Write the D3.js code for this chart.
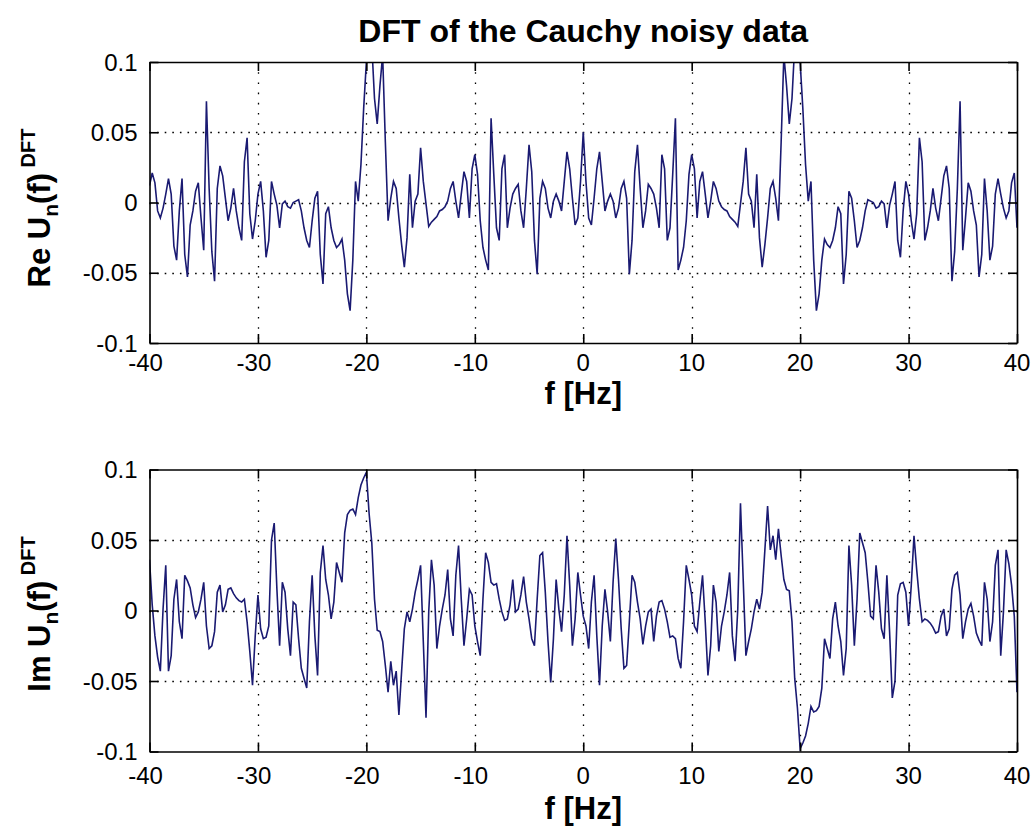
<!DOCTYPE html>
<html>
<head>
<meta charset="utf-8">
<script src="https://cdn.jsdelivr.net/npm/d3@7"></script>
<style>
  body { margin: 0; background: #ffffff; }
  svg { display: block; font-family: "Liberation Sans", Arial, Helvetica, sans-serif; }
</style>
</head>
<body>
<svg id="fig" width="1034" height="830"></svg>
<script>
// ---- labels and ticks ----
const chartTitle = "DFT of the Cauchy noisy data";
const xLabel = "f [Hz]";
const xTicks = [-40, -30, -20, -10, 0, 10, 20, 30, 40];
const xTickLabels = ["-40", "-30", "-20", "-10", "0", "10", "20", "30", "40"];
const yTicks = [-0.1, -0.05, 0, 0.05, 0.1];
const yTickLabels = ["-0.1", "-0.05", "0", "0.05", "0.1"];

// ---- spectrum samples: 0.25 Hz bins from -40 Hz to +40 Hz ----
const freqStart = -40;
const freqStep = 0.25;

// Real part, bins -40 ... 0 Hz (161 values)
const reNeg = [
  0.012, 0.021, 0.014, -0.006, -0.011, -0.004, 0.006, 0.017, 0.006, -0.031,
  -0.041, -0.006, 0.017, -0.037, -0.053, -0.016, -0.006, 0.008, 0.014, -0.011,
  -0.034, 0.072, 0.010, -0.035, -0.056, 0.010, 0.026, 0.019, 0.003, -0.013,
  -0.004, 0.010, -0.006, -0.018, -0.027, 0.029, 0.046, -0.008, -0.026, -0.013,
  0.006, 0.015, -0.006, -0.039, -0.027, 0.015, 0.006, -0.002, -0.018, -0.001,
  0.001, -0.003, -0.004, 0.000, 0.001, 0.002, -0.006, -0.018, -0.027, -0.032,
  -0.013, 0.003, 0.008, -0.037, -0.058, -0.008, -0.003, -0.018, -0.027, -0.032,
  -0.030, -0.026, -0.041, -0.065, -0.077, -0.041, 0.015, 0.001, 0.027, 0.067,
  0.100, 0.118, 0.112, 0.074, 0.056, 0.083, 0.105, 0.043, -0.013, 0.003,
  0.015, 0.010, -0.011, -0.030, -0.046, -0.025, 0.020, -0.018, 0.001, 0.006,
  0.039, 0.015, -0.001, -0.017, -0.014, -0.012, -0.010, -0.006, -0.005, -0.003,
  0.001, 0.010, 0.015, 0.001, -0.011, 0.006, 0.022, 0.015, -0.011, 0.024,
  0.034, 0.020, -0.013, -0.032, -0.041, -0.048, 0.060, 0.020, -0.018, -0.027,
  0.024, 0.034, -0.018, -0.004, 0.006, 0.010, 0.013, -0.006, -0.018, 0.010,
  0.041, 0.022, -0.027, -0.051, 0.003, 0.015, 0.010, -0.004, -0.011, 0.001,
  0.006, 0.001, -0.006, 0.015, 0.036, 0.024, 0.003, -0.016, -0.011, 0.015,
  0.050
];

// Real part, bins 0.25 ... 40 Hz (160 values)
const rePos = [
  0.015, -0.011, -0.016, 0.003, 0.024, 0.036, 0.015, -0.006, 0.001, 0.006,
  0.001, -0.011, -0.004, 0.010, 0.015, 0.003, -0.051, -0.027, 0.022, 0.041,
  0.010, -0.018, -0.006, 0.013, 0.010, 0.006, -0.004, -0.018, 0.034, 0.024,
  -0.027, -0.018, 0.020, 0.060, -0.048, -0.041, -0.032, -0.013, 0.020, 0.034,
  0.024, -0.011, 0.015, 0.022, 0.006, -0.011, 0.001, 0.015, 0.010, 0.001,
  -0.003, -0.005, -0.006, -0.010, -0.012, -0.014, -0.017, -0.001, 0.015, 0.039,
  0.006, 0.001, -0.018, 0.020, -0.025, -0.046, -0.030, -0.011, 0.010, 0.015,
  0.003, -0.013, 0.043, 0.105, 0.083, 0.056, 0.074, 0.112, 0.118, 0.100,
  0.067, 0.027, 0.001, 0.015, -0.041, -0.077, -0.065, -0.041, -0.026, -0.030,
  -0.032, -0.027, -0.018, -0.003, -0.008, -0.058, -0.037, 0.008, 0.003, -0.013,
  -0.032, -0.027, -0.018, -0.006, 0.002, 0.001, 0.000, -0.004, -0.003, 0.001,
  -0.001, -0.018, -0.002, 0.006, 0.015, -0.027, -0.039, -0.006, 0.015, 0.006,
  -0.013, -0.026, -0.008, 0.046, 0.029, -0.027, -0.018, -0.006, 0.010, -0.004,
  -0.013, 0.003, 0.019, 0.026, 0.010, -0.056, -0.035, 0.010, 0.072, -0.034,
  -0.011, 0.014, 0.008, -0.006, -0.016, -0.053, -0.037, 0.017, -0.006, -0.041,
  -0.031, 0.006, 0.017, 0.006, -0.004, -0.011, -0.006, 0.014, 0.021, -0.018
];

// Imaginary part, bins -40 ... 0 Hz (161 values)
const imNeg = [
  0.036, 0.004, -0.018, -0.033, -0.043, 0.001, 0.032, -0.043, -0.032, 0.008,
  0.022, -0.008, -0.020, 0.025, 0.021, 0.016, 0.004, -0.005, -0.001, 0.008,
  0.020, -0.011, -0.027, -0.025, -0.015, 0.013, 0.018, -0.001, 0.004, 0.015,
  0.016, 0.012, 0.009, 0.007, 0.006, 0.008, -0.008, -0.029, -0.053, -0.018,
  0.011, -0.013, -0.020, -0.019, -0.011, 0.050, 0.062, 0.015, -0.025, 0.020,
  0.013, -0.013, -0.032, 0.006, 0.004, -0.020, -0.041, -0.048, -0.055, -0.008,
  0.025, -0.018, -0.046, 0.027, 0.046, 0.022, 0.011, -0.006, 0.006, 0.034,
  0.027, 0.020, 0.055, 0.068, 0.071, 0.072, 0.068, 0.080, 0.089, 0.094,
  0.098, 0.069, 0.048, 0.008, -0.014, -0.015, -0.022, -0.039, -0.058, -0.036,
  -0.053, -0.043, -0.074, -0.043, -0.013, -0.001, -0.008, 0.001, 0.013, 0.022,
  0.032, -0.022, -0.076, -0.001, 0.036, 0.018, -0.027, -0.011, 0.001, 0.011,
  0.029, -0.006, -0.018, 0.025, 0.046, 0.008, -0.025, -0.006, 0.015, 0.011,
  -0.011, -0.022, -0.032, 0.008, 0.041, 0.034, 0.020, 0.018, 0.019, 0.008,
  -0.001, -0.007, -0.006, 0.004, 0.022, -0.001, 0.001, 0.011, 0.024, 0.006,
  -0.006, -0.020, -0.025, 0.008, 0.039, 0.041, 0.013, -0.022, -0.051, -0.020,
  0.022, 0.001, -0.015, 0.011, 0.053, 0.018, -0.025, -0.006, 0.027, 0.011,
  -0.004
];

// Imaginary part, bins 0.25 ... 40 Hz (160 values)
const imPos = [
  -0.011, -0.027, 0.006, 0.025, -0.018, -0.053, -0.011, 0.015, -0.001, -0.022,
  0.020, 0.051, 0.022, -0.013, -0.041, -0.039, -0.008, 0.025, 0.020, 0.006,
  -0.006, -0.024, -0.011, -0.001, 0.001, -0.022, -0.004, 0.006, 0.007, 0.001,
  -0.008, -0.019, -0.018, -0.020, -0.034, -0.041, -0.008, 0.032, 0.022, 0.011,
  -0.011, -0.015, 0.006, 0.025, -0.008, -0.046, -0.025, 0.018, 0.006, -0.029,
  -0.011, -0.001, 0.011, 0.027, -0.018, -0.036, 0.001, 0.076, 0.022, -0.032,
  -0.022, -0.013, -0.001, 0.008, 0.001, 0.013, 0.043, 0.074, 0.043, 0.053,
  0.036, 0.058, 0.039, 0.022, 0.015, 0.014, -0.008, -0.048, -0.069, -0.098,
  -0.094, -0.089, -0.080, -0.068, -0.072, -0.071, -0.068, -0.055, -0.020, -0.027,
  -0.034, -0.006, 0.006, -0.011, -0.022, -0.046, -0.027, 0.046, 0.018, -0.025,
  0.008, 0.055, 0.048, 0.041, 0.020, -0.004, -0.006, 0.032, 0.013, -0.013,
  -0.020, 0.025, -0.015, -0.062, -0.050, 0.011, 0.019, 0.020, 0.013, -0.011,
  0.018, 0.053, 0.029, 0.008, -0.008, -0.006, -0.007, -0.009, -0.012, -0.016,
  -0.015, -0.004, 0.001, -0.018, -0.013, 0.015, 0.025, 0.027, 0.011, -0.020,
  -0.008, 0.001, 0.005, -0.004, -0.016, -0.021, -0.025, 0.020, 0.008, -0.022,
  -0.008, 0.032, 0.043, -0.032, -0.001, 0.043, 0.033, 0.018, -0.004, -0.058
];

// ---- figure layout ----
const svg = d3.select("#fig");
const lineColor = "#1a1a72";
const fontMain = 31;
const fontTick = 24;

const x = d3.scaleLinear().domain([-40, 40]).range([149.5, 1017]);

const panels = [
  { id: "re", top: 62, bottom: 343, prefix: "Re", neg: reNeg, pos: rePos,
    labelY: 208, xLabelY: 404, tickLabelY: 371 },
  { id: "im", top: 469.5, bottom: 751.5, prefix: "Im", neg: imNeg, pos: imPos,
    labelY: 614, xLabelY: 819, tickLabelY: 784 }
];

svg.append("text")
  .attr("x", (x.range()[0] + x.range()[1]) / 2)
  .attr("y", 42)
  .attr("text-anchor", "middle")
  .attr("font-size", 32)
  .attr("font-weight", "bold")
  .attr("fill", "#000")
  .text(chartTitle);

panels.forEach(p => {
  const values = p.neg.concat(p.pos);
  const series = values.map((v, i) => ({ f: freqStart + i * freqStep, v }));

  const y = d3.scaleLinear().domain([-0.1, 0.1]).range([p.bottom, p.top]);
  const g = svg.append("g");

  // clip region of the axes
  g.append("clipPath").attr("id", "clip-" + p.id)
    .append("rect")
    .attr("x", x.range()[0]).attr("y", p.top)
    .attr("width", x.range()[1] - x.range()[0])
    .attr("height", p.bottom - p.top);

  // dotted grid
  const grid = g.append("g").attr("stroke", "#000").attr("stroke-width", 1.3).attr("fill", "none");
  xTicks.slice(1, -1).forEach(t => {
    grid.append("line")
      .attr("x1", Math.round(x(t)) + 0.5).attr("x2", Math.round(x(t)) + 0.5)
      .attr("y1", p.top).attr("y2", p.bottom)
      .attr("stroke-dasharray", "1.6,8.6");
  });
  yTicks.slice(1, -1).forEach(t => {
    grid.append("line")
      .attr("x1", x.range()[0]).attr("x2", x.range()[1])
      .attr("y1", Math.round(y(t)) + 0.5).attr("y2", Math.round(y(t)) + 0.5)
      .attr("stroke-dasharray", "1.6,6");
  });

  // spectrum trace
  g.append("path")
    .datum(series)
    .attr("clip-path", "url(#clip-" + p.id + ")")
    .attr("fill", "none")
    .attr("stroke", lineColor)
    .attr("stroke-width", 1.6)
    .attr("stroke-linejoin", "miter")
    .attr("d", d3.line().x(d => x(d.f)).y(d => y(d.v)));

  // axes box with inward ticks on all sides
  const tickLen = 9;
  const axisBottom = d3.axisBottom(x).tickValues(xTicks).tickSizeInner(-tickLen).tickSizeOuter(0).tickFormat("");
  const axisTop = d3.axisTop(x).tickValues(xTicks).tickSizeInner(-tickLen).tickSizeOuter(0).tickFormat("");
  const axisLeft = d3.axisLeft(y).tickValues(yTicks).tickSizeInner(-tickLen).tickSizeOuter(0).tickFormat("");
  const axisRight = d3.axisRight(y).tickValues(yTicks).tickSizeInner(-tickLen).tickSizeOuter(0).tickFormat("");

  [[axisBottom, `translate(0,${p.bottom})`], [axisTop, `translate(0,${p.top})`],
   [axisLeft, `translate(${x.range()[0]},0)`], [axisRight, `translate(${x.range()[1]},0)`]]
    .forEach(([ax, tr]) => {
      const a = g.append("g").attr("transform", tr).call(ax);
      a.selectAll("path.domain").attr("stroke", "#000").attr("stroke-width", 1.6);
      a.selectAll(".tick line").attr("stroke", "#000").attr("stroke-width", 1.6);
    });

  // tick labels
  const tl = g.append("g").attr("font-size", fontTick).attr("fill", "#000");
  xTicks.forEach((t, i) => {
    const lab = xTickLabels[i];
    tl.append("text")
      .attr("x", x(t) + (lab.startsWith("-") ? -4 : 0))
      .attr("y", p.tickLabelY)
      .attr("text-anchor", "middle")
      .text(lab);
  });
  yTicks.forEach((t, i) => {
    tl.append("text")
      .attr("x", x.range()[0] - 12)
      .attr("y", y(t) + 8.5)
      .attr("text-anchor", "end")
      .text(yTickLabels[i]);
  });

  // x label
  g.append("text")
    .attr("x", (x.range()[0] + x.range()[1]) / 2)
    .attr("y", p.xLabelY)
    .attr("text-anchor", "middle")
    .attr("font-size", fontMain)
    .attr("font-weight", "bold")
    .text(xLabel);

  // y label: "<prefix> U_n(f)^DFT"
  const yl = g.append("text")
    .attr("transform", `translate(50,${p.labelY}) rotate(-90)`)
    .attr("text-anchor", "middle")
    .attr("font-size", fontMain)
    .attr("font-weight", "bold");
  yl.append("tspan").text(p.prefix + " U");
  yl.append("tspan").attr("font-size", 21).attr("dy", 8).text("n");
  yl.append("tspan").attr("dy", -8).text("(f)");
  yl.append("tspan").attr("font-size", 20).attr("dy", -15).text(" DFT");
});
</script>
</body>
</html>
